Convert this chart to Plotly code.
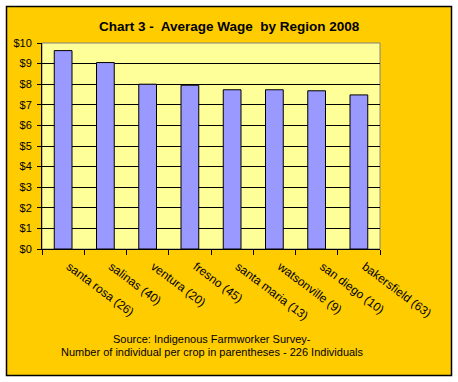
import plotly.graph_objects as go

regions = ["santa rosa (26)", "salinas (40)", "ventura (20)", "fresno (45)",
           "santa maria (13)", "watsonville (9)", "san diego (10)", "bakersfield (63)"]
wages = [9.63, 9.05, 8.0, 7.95, 7.73, 7.73, 7.68, 7.48]
y_ticks = list(range(0, 11))
y_tick_labels = ["$" + str(v) for v in y_ticks]

W, H = 458, 382
L, R, T, B = 42, 78, 43, 133
pw, ph = W - L - R, H - T - B

def px_x(p):
    return (p - L) / pw

def px_y(p):
    return (H - B - p) / ph

FONT = "Liberation Sans, Arial, sans-serif"

fig = go.Figure(go.Bar(
    x=regions, y=wages, width=0.42,
    marker=dict(color="#9999FF", line=dict(color="black", width=1)),
))

fig.update_layout(
    width=W, height=H,
    margin=dict(l=L, r=R, t=T, b=B),
    paper_bgcolor="white", plot_bgcolor="#FFFF99",
    showlegend=False,
    font=dict(family=FONT, size=11, color="black"),
    shapes=[
        dict(type="rect", xref="paper", yref="paper", layer="below",
             x0=px_x(6.5), x1=px_x(451.5), y0=px_y(375.5), y1=px_y(6.5),
             fillcolor="#FFCC00", line=dict(color="black", width=1.5)),
        dict(type="rect", xref="paper", yref="paper", layer="below",
             x0=0, x1=1, y0=0, y1=1,
             fillcolor="#FFFF99", line=dict(color="#808080", width=1)),
    ],
    annotations=[
        dict(text="<b>Chart 3 -  Average Wage  by Region 2008</b>", xref="paper", yref="paper",
             x=px_x(229), y=px_y(26), showarrow=False, font=dict(size=13.5, family=FONT),
             xanchor="center", yanchor="middle"),
        dict(text="Source: Indigenous Farmworker Survey-", xref="paper", yref="paper",
             x=px_x(212), y=px_y(339), showarrow=False, font=dict(size=11, family=FONT),
             xanchor="center", yanchor="middle"),
        dict(text="Number of individual per crop in parentheses - 226 Individuals", xref="paper", yref="paper",
             x=px_x(212), y=px_y(352), showarrow=False, font=dict(size=11, family=FONT),
             xanchor="center", yanchor="middle"),
    ],
)

fig.update_xaxes(
    tickangle=37, showline=True, linecolor="black", linewidth=1,
    ticks="outside", tickson="boundaries", ticklen=5, tickcolor="black",
    showgrid=False, tickfont=dict(size=12),
    ticklabelshift=6, ticklabelstandoff=5,
)
fig.update_yaxes(
    range=[0, 10], tickvals=y_ticks, ticktext=y_tick_labels,
    showline=True, linecolor="black", linewidth=1,
    ticks="outside", ticklen=4, tickcolor="black",
    showgrid=True, gridcolor="black", gridwidth=1,
    zeroline=False, tickfont=dict(size=11), ticklabelstandoff=3,
)

fig.write_html("out.html", config={"displayModeBar": False},
               post_script="document.body.style.margin='0px';")
